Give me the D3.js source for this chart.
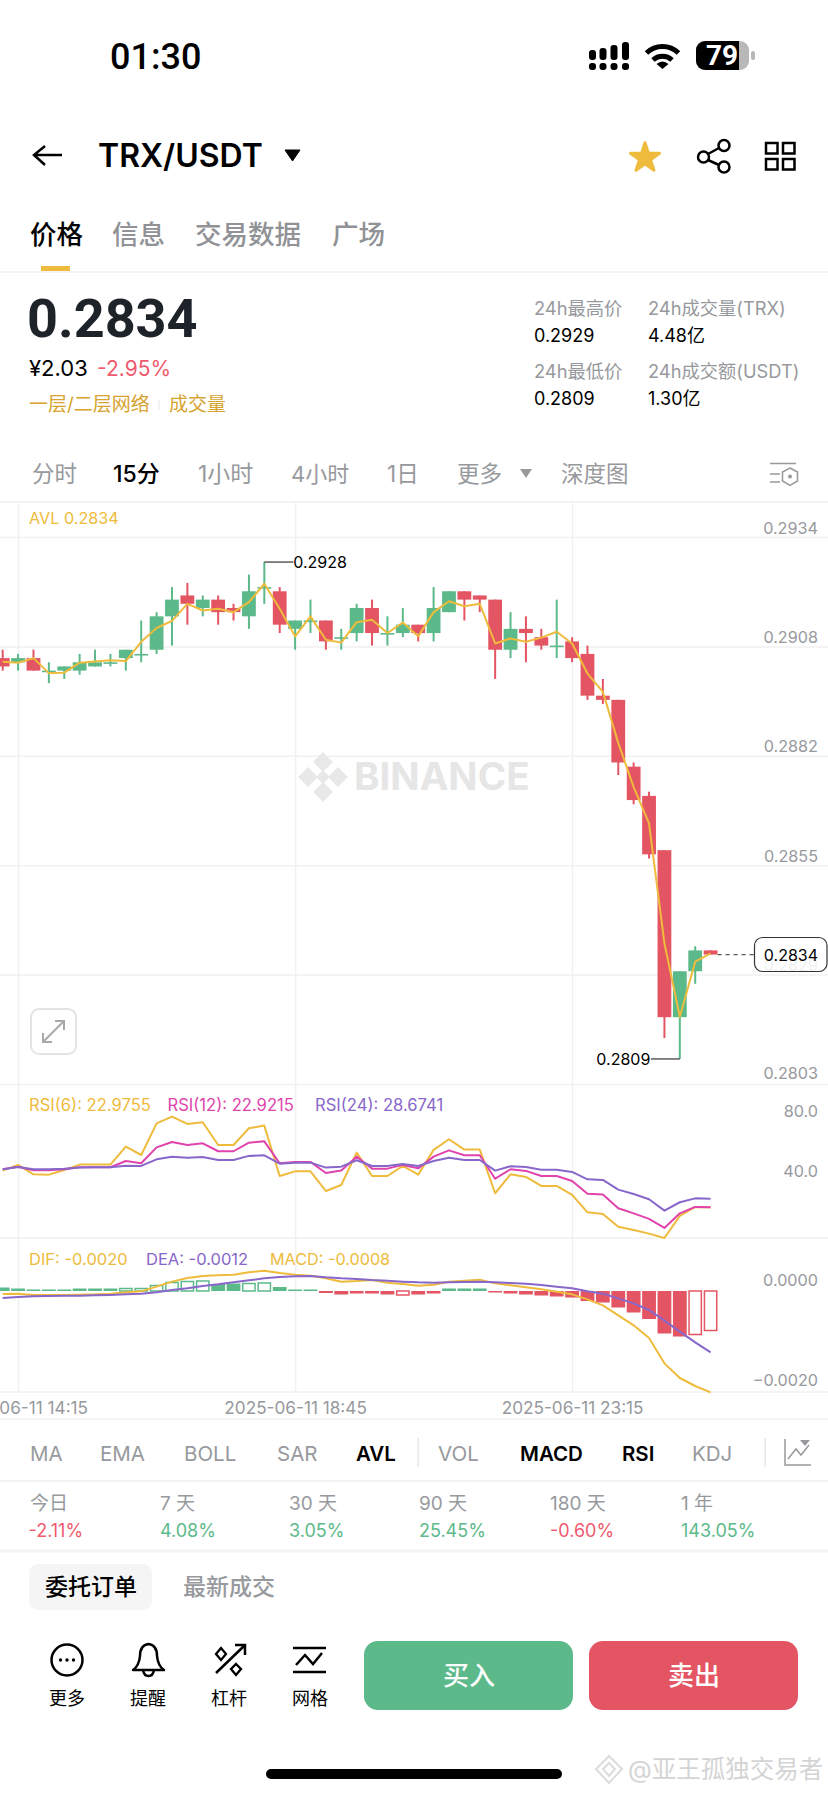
<!DOCTYPE html>
<html>
<head>
<meta charset="utf-8">
<script src="https://cdn.jsdelivr.net/npm/d3@7"></script>
<style>
html, body { margin: 0; padding: 0; background: #fff; }
svg { display: block; }
text { font-family: Inter, "Noto Sans CJK SC", sans-serif; }
.domain { display: none; }
</style>
</head>
<body>
<div id="chart"></div>
<script>
// candles, oldest first (15 min each)
var opens = [0.2905,0.2904,0.2905,0.2902,0.2902,0.2902,0.2903,0.2904,0.2905,0.2906,0.2907,0.2915,0.2920,0.2917,0.2919,0.2917,0.2915,0.2922,0.2921,0.2912,0.2914,0.2914,0.2910,0.2911,0.2917,0.2911,0.2911,0.2913,0.2911,0.2916,0.2921,0.2920,0.2919,0.2907,0.2912,0.2910,0.2908,0.2909,0.2906,0.2896,0.2895,0.2879,0.2872,0.2859,0.2819,0.2830,0.2835];
var highs = [0.2907,0.2906,0.2907,0.2904,0.2903,0.2906,0.2907,0.2906,0.2907,0.2914,0.2916,0.2922,0.2923,0.2920,0.2920,0.2918,0.2925,0.2928,0.2922,0.2914,0.2919,0.2914,0.2912,0.2918,0.2919,0.2915,0.2917,0.2913,0.2922,0.2921,0.2921,0.2920,0.2919,0.2916,0.2915,0.2912,0.2919,0.2910,0.2908,0.2900,0.2895,0.2880,0.2873,0.2859,0.2830,0.2836,0.2835];
var lows = [0.2902,0.2902,0.2902,0.2899,0.2900,0.2901,0.2903,0.2903,0.2902,0.2904,0.2906,0.2908,0.2913,0.2915,0.2913,0.2914,0.2912,0.2918,0.2911,0.2907,0.2911,0.2907,0.2907,0.2909,0.2908,0.2908,0.2910,0.2909,0.2909,0.2916,0.2914,0.2916,0.2900,0.2905,0.2904,0.2907,0.2905,0.2904,0.2895,0.2894,0.2877,0.2870,0.2857,0.2814,0.2809,0.2827,0.2834];
var closes = [0.2903,0.2905,0.2902,0.2902,0.2903,0.2904,0.2904,0.2904,0.2907,0.2906,0.2915,0.2919,0.2918,0.2919,0.2916,0.2916,0.2921,0.2922,0.2913,0.2914,0.2914,0.2909,0.2910,0.2917,0.2911,0.2911,0.2913,0.2911,0.2917,0.2921,0.2919,0.2919,0.2907,0.2912,0.2911,0.2908,0.2908,0.2905,0.2896,0.2895,0.2880,0.2871,0.2858,0.2819,0.2830,0.2835,0.2834];
var avl = [0.29041,0.29039,0.29050,0.29014,0.29015,0.29039,0.29042,0.29045,0.29043,0.29089,0.29122,0.29139,0.29180,0.29164,0.29168,0.29160,0.29184,0.29228,0.29168,0.29102,0.29150,0.29094,0.29087,0.29136,0.29142,0.29110,0.29135,0.29102,0.29160,0.29186,0.29174,0.29180,0.29085,0.29097,0.29089,0.29099,0.29113,0.29085,0.29013,0.28969,0.28847,0.28741,0.28654,0.28367,0.28191,0.28323,0.28343];

var rsi6 = [47.4,51.2,44.9,44.7,47.8,51.4,51.4,51.4,63.4,57.8,78.9,83.4,78.5,79.6,64.5,64.5,75.6,77.4,43.8,46.9,46.9,33.8,37.8,59.4,43.8,43.8,50.5,44.7,61.2,68.3,61.4,61.4,32.3,44.9,43.2,37.2,37.2,31.2,19.6,18.5,10.0,7.8,5.4,2.5,17.2,23.2,22.98];
var rsi12 = [48.3,50.0,47.6,47.6,48.3,49.6,49.6,49.6,53.8,52.3,62.9,66.5,64.5,65.6,60.3,60.3,66.0,66.9,52.3,53.2,53.2,45.8,47.4,56.7,48.7,48.7,51.2,48.9,56.7,60.9,57.6,57.6,42.0,48.3,47.2,43.8,43.8,40.5,32.0,31.4,22.3,18.9,15.2,9.2,18.9,23.2,22.92];
var rsi24 = [48.3,49.8,48.3,48.3,48.7,49.4,49.6,49.6,50.7,50.5,54.9,56.7,56.0,56.5,54.5,54.5,57.2,57.6,52.0,52.7,52.7,49.4,50.0,54.3,50.5,50.5,51.8,50.5,53.8,56.0,54.5,54.5,47.4,50.3,49.8,48.0,48.0,46.5,41.6,41.2,34.7,31.8,28.3,20.7,26.3,28.9,28.67];

var dif = [-0.00006,-0.000053,-0.00008,-0.00008,-0.00008,-0.000073,-0.000067,-0.000053,-0.000027,-0.000007,0.000087,0.000187,0.00026,0.0003,0.000313,0.000327,0.000373,0.000407,0.00036,0.000327,0.000307,0.000253,0.000187,0.0002,0.00022,0.000167,0.00014,0.000107,0.000127,0.000187,0.000207,0.000227,0.000153,0.000113,0.000073,0.000033,-0.000013,-0.000067,-0.000167,-0.000287,-0.000487,-0.000687,-0.00094,-0.001447,-0.00174,-0.0019,-0.002027];
var dea = [-0.00014,-0.00012,-0.000107,-0.0001,-0.000093,-0.000093,-0.000087,-0.00008,-0.000067,-0.000053,-0.000027,0.00002,0.000053,0.0001,0.000133,0.000173,0.000213,0.000253,0.00028,0.000293,0.0003,0.000273,0.000253,0.00024,0.00022,0.000207,0.000187,0.000173,0.000167,0.000173,0.00018,0.000187,0.000173,0.00016,0.000147,0.00012,0.000087,0.000053,-0.000007,-0.000053,-0.000147,-0.000247,-0.00038,-0.000593,-0.000813,-0.001027,-0.001227];
var hist = [0.00007,0.00005,0.00003,0.00003,0.00003,0.00005,0.00005,0.00005,0.00005,0.00005,0.00011,0.00017,0.00019,0.0002,0.00014,0.00015,0.00015,0.00016,0.00008,0.00003,0.00003,-0.00004,-0.00007,-0.00005,-0.00005,-0.00007,-0.00008,-0.00007,-0.00005,0.00005,0.00005,0.00005,-0.00003,-0.00005,-0.00007,-0.00009,-0.00011,-0.00013,-0.0002,-0.00023,-0.00033,-0.00043,-0.00056,-0.00085,-0.00091,-0.00087,-0.00079];
var histHollow = [8,9,10,11,12,13,16,17,26,45,46];

var priceTicks = [0.2934,0.29078,0.28816,0.28554,0.28292,0.2803];
var rsiTicks = [80,40];
var macdTicks = [0,-0.002];
var timeTickIdx = [1,19,37];
var timeLabels = ["2025-06-11 14:15","2025-06-11 18:45","2025-06-11 23:15"];

var periodNames = ["今日","7 天","30 天","90 天","180 天","1 年"];
var periodValues = ["-2.11%","4.08%","3.05%","25.45%","-0.60%","143.05%"];

var GREEN = "#5cb98a", RED = "#e45563", YELLOW = "#eebb3c", PINK = "#e044ac", PURPLE = "#8867cb";
var GRID = "#f1f1f1", GREY = "#97999d";

var svg = d3.select("#chart").append("svg").attr("width", 828).attr("height", 1795);

// small helper for all the plain text on the page
function txt(x, y, s, size, color, weight, anchor) {
	return svg.append("text")
		.attr("x", x).attr("y", y)
		.attr("font-size", size)
		.attr("fill", color || "#000")
		.attr("font-weight", weight || 400)
		.attr("text-anchor", anchor || "start")
		.text(s);
}
function rule(x1, x2, y, color, w) {
	svg.append("line").attr("x1", x1).attr("x2", x2).attr("y1", y).attr("y2", y)
		.attr("stroke", color || GRID).attr("stroke-width", w || 1.5);
}

// scales
var x = d3.scaleLinear().domain([0, 46]).range([2.7, 710.6]);
var yPrice = d3.scaleLinear().domain([0.2934, 0.2803]).range([537, 1084]);
var yRsi = d3.scaleLinear().domain([80, 40]).range([1121.7, 1181.7]);
var yMacd = d3.scaleLinear().domain([0, -0.002]).range([1291, 1391]);

// status bar
txt(110, 69, "01:30", 36, "#000", 500).style("font-family", "Roboto");
var sigTop = [50, 48, 45, 42], sigX = [589, 599.5, 610.5, 622];
sigX.forEach(function (sx, i) {
	svg.append("rect").attr("x", sx).attr("y", sigTop[i]).attr("width", 7).attr("height", 60 - sigTop[i]).attr("rx", 3).attr("fill", "#000");
	svg.append("rect").attr("x", sx).attr("y", 63).attr("width", 7).attr("height", 7).attr("rx", 3).attr("fill", "#000");
});
svg.append("path").attr("d", "M646.5 53 A23 23 0 0 1 678.5 53").attr("fill", "none").attr("stroke", "#000").attr("stroke-width", 5);
svg.append("path").attr("d", "M653 60 A14 14 0 0 1 672 60").attr("fill", "none").attr("stroke", "#000").attr("stroke-width", 5);
svg.append("path").attr("d", "M656.5 64 Q662.5 59 668.5 64 L662.5 69 Z").attr("fill", "#000");
svg.append("rect").attr("x", 696).attr("y", 41).attr("width", 53).attr("height", 29).attr("rx", 9).attr("fill", "#b8b8b8");
svg.append("path").attr("d", "M705 41 H739 V70 H705 A9 9 0 0 1 696 61 V50 A9 9 0 0 1 705 41 Z").attr("fill", "#000");
svg.append("rect").attr("x", 751).attr("y", 51).attr("width", 4).attr("height", 9).attr("rx", 2).attr("fill", "#b8b8b8");
txt(722, 65, "79", 28, "#fff", 700, "middle").style("font-family", "Roboto");

// title row
svg.append("path").attr("d", "M62 155 H35 M45 146 L34 155 L45 165").attr("fill", "none").attr("stroke", "#000").attr("stroke-width", 2.5);
txt(98, 167, "TRX/USDT", 32, "#000", 600);
svg.append("path").attr("d", "M285 150 H300 L292.5 161 Z").attr("fill", "#000").attr("stroke", "#000").attr("stroke-linejoin", "round");
svg.append("path").attr("transform", "translate(645,158)")
	.attr("d", d3.symbol().type(d3.symbolStar).size(260)())
	.attr("fill", YELLOW).attr("stroke", YELLOW).attr("stroke-width", 3).attr("stroke-linejoin", "round");
svg.append("path").attr("d", "M708 154 L719 148 M708 160 L719 165").attr("stroke", "#000").attr("stroke-width", 2.5);
[[724, 145.5], [703.5, 157], [724, 167]].forEach(function (c) {
	svg.append("circle").attr("cx", c[0]).attr("cy", c[1]).attr("r", 5.5).attr("fill", "none").attr("stroke", "#000").attr("stroke-width", 2.5);
});
[[766, 143], [783, 143], [766, 159], [783, 159]].forEach(function (c) {
	svg.append("rect").attr("x", c[0]).attr("y", c[1]).attr("width", 11.5).attr("height", 10.5).attr("fill", "none").attr("stroke", "#000").attr("stroke-width", 2.5);
});

// tabs
txt(30, 244, "价格", 26.5, "#000", 500);
txt(112, 244, "信息", 26.5, "#909296", 500);
txt(195, 244, "交易数据", 26.5, "#909296", 500);
txt(332, 244, "广场", 26.5, "#909296", 500);
svg.append("rect").attr("x", 41).attr("y", 266).attr("width", 29).attr("height", 5).attr("fill", YELLOW);
rule(0, 828, 272);

// price header
txt(27, 337, "0.2834", 54, "#1e2329", 700).style("font-family", "Roboto");
txt(29, 376, "¥2.03", 22, "#000");
txt(97, 376, "-2.95%", 21, "#ef5a6f");
txt(29, 411, "一层/二层网络", 19, "#d6a32e");
svg.append("rect").attr("x", 158.5).attr("y", 400).attr("width", 1).attr("height", 10).attr("fill", "#e6e6e6");
txt(169, 411, "成交量", 19, "#d6a32e");
txt(534, 315, "24h最高价", 18.3, GREY);
txt(534, 342, "0.2929", 18, "#000");
txt(648, 315, "24h成交量(TRX)", 18.3, GREY);
txt(648, 342, "4.48亿", 18, "#000");
txt(534, 378, "24h最低价", 18.3, GREY);
txt(534, 405, "0.2809", 18, "#000");
txt(648, 378, "24h成交额(USDT)", 18.3, GREY);
txt(648, 405, "1.30亿", 18, "#000");

// interval row
txt(32, 482, "分时", 22.5, GREY);
txt(113, 482, "15分", 23, "#000", 500);
txt(198, 482, "1小时", 23, GREY);
txt(291, 482, "4小时", 22, GREY);
txt(387, 482, "1日", 22.5, GREY);
txt(457, 482, "更多", 22.5, GREY);
svg.append("path").attr("d", "M520 469 H532 L526 478 Z").attr("fill", GREY);
txt(561, 482, "深度图", 22.5, GREY);
svg.append("path").attr("d", "M770 463.5 H796 M770 474 H780 M770 482 H780").attr("fill", "none").attr("stroke", GREY).attr("stroke-width", 1.5);
svg.append("path").attr("d", "M790 468 L797.5 472 V481 L790 485.5 L782.5 481 V472 Z").attr("fill", "none").attr("stroke", GREY).attr("stroke-width", 1.5);
svg.append("circle").attr("cx", 790).attr("cy", 476.5).attr("r", 2).attr("fill", GREY);

// chart frame
rule(0, 828, 502);
rule(0, 828, 1238);
rule(0, 828, 1392);
rule(0, 828, 1419);

var xAxis = d3.axisBottom(x).tickValues(timeTickIdx)
	.tickFormat(function (d, i) { return timeLabels[i]; })
	.tickSize(-890).tickPadding(0);
var gx = svg.append("g").attr("transform", "translate(0,1392)").call(xAxis);
gx.selectAll("line").attr("stroke", GRID).attr("stroke-width", 1.5);
gx.selectAll("text").attr("y", 22).attr("dy", 0).attr("font-size", 17.2).attr("fill", GREY);

var priceAxis = d3.axisLeft(yPrice).tickValues(priceTicks).tickFormat(d3.format(".4f")).tickSize(828);
var gp = svg.append("g").attr("transform", "translate(828,0)").call(priceAxis);
gp.selectAll("line").attr("stroke", GRID).attr("stroke-width", 1.5);
gp.selectAll("text").attr("x", -10).attr("dy", function (d, i) { return i == 5 ? -6 : -4; }).attr("font-size", 16.2).attr("fill", GREY);

// watermark
svg.append("g").selectAll("path")
	.data([[323, 762], [308, 777], [338, 777], [323, 792]])
	.enter().append("path")
	.attr("transform", function (d) { return "translate(" + d[0] + "," + d[1] + ") rotate(45)"; })
	.attr("d", "M-7 -7 H7 V7 H-7 Z")
	.attr("fill", "#e8e8e8");
svg.append("path").attr("transform", "translate(323,777) rotate(45)").attr("d", "M-5 -5 H5 V5 H-5 Z").attr("fill", "#e8e8e8");
txt(354, 790, "BINANCE", 38.5, "#e6e6e6", 700);

txt(29, 524, "AVL 0.2834", 16.2, YELLOW);

// candles
var candleIdx = d3.range(opens.length);
function candleColor(i) { return closes[i] >= opens[i] ? GREEN : RED; }
svg.append("g").selectAll("line").data(candleIdx).enter().append("line")
	.attr("x1", function (i) { return x(i); })
	.attr("x2", function (i) { return x(i); })
	.attr("y1", function (i) { return yPrice(highs[i]); })
	.attr("y2", function (i) { return yPrice(lows[i]); })
	.attr("stroke", candleColor).attr("stroke-width", 2);
svg.append("g").selectAll("rect").data(candleIdx).enter().append("rect")
	.attr("x", function (i) { return x(i) - 6.9; })
	.attr("width", 13.8)
	.attr("y", function (i) { return yPrice(Math.max(opens[i], closes[i])); })
	.attr("height", function (i) { return Math.max(1.6, Math.abs(yPrice(opens[i]) - yPrice(closes[i]))); })
	.attr("fill", candleColor);

function drawLine(values, yScale, color) {
	var line = d3.line().x(function (d, i) { return x(i); }).y(function (d) { return yScale(d); });
	svg.append("path").datum(values).attr("d", line)
		.attr("fill", "none").attr("stroke", color).attr("stroke-width", 2).attr("stroke-linejoin", "round");
}
drawLine(avl, yPrice, YELLOW);

// high / low markers
var iHigh = highs.indexOf(d3.max(highs)), iLow = lows.indexOf(d3.min(lows));
svg.append("path").attr("d", "M" + x(iHigh) + " " + yPrice(highs[iHigh]) + " H" + (x(iHigh) + 29)).attr("stroke", "#333").attr("stroke-width", 1.2);
txt(x(iHigh) + 29, yPrice(highs[iHigh]) + 6, d3.format(".4f")(highs[iHigh]), 16, "#000");
svg.append("path").attr("d", "M" + x(iLow) + " " + yPrice(lows[iLow]) + " H" + (x(iLow) - 29)).attr("stroke", "#333").attr("stroke-width", 1.2);
txt(x(iLow) - 29.5, yPrice(lows[iLow]) + 6, d3.format(".4f")(lows[iLow]), 16, "#000", 400, "end");

// last price tag
var last = closes[closes.length - 1];
svg.append("line").attr("x1", x(46) + 7).attr("x2", 754).attr("y1", yPrice(last)).attr("y2", yPrice(last))
	.attr("stroke", "#555").attr("stroke-width", 1.2).attr("stroke-dasharray", "4 4");
svg.append("rect").attr("x", 754.5).attr("y", 937.5).attr("width", 72.5).attr("height", 34).attr("rx", 8)
	.attr("fill", "#fff").attr("fill-opacity", 0.85).attr("stroke", "#333").attr("stroke-width", 1.2);
txt(818, yPrice(last) + 6, d3.format(".4f")(last), 16, "#000", 400, "end");

// expand button
svg.append("rect").attr("x", 31).attr("y", 1009).attr("width", 45).attr("height", 45).attr("rx", 8)
	.attr("fill", "#fff").attr("stroke", "#e4e4e4").attr("stroke-width", 2);
svg.append("path").attr("d", "M43 1042 L64 1021 M55 1021 H64 V1030 M43 1033 V1042 H52")
	.attr("fill", "none").attr("stroke", "#a9a9a9").attr("stroke-width", 2);

// RSI panel
var rsiAxis = d3.axisLeft(yRsi).tickValues(rsiTicks).tickFormat(d3.format(".1f")).tickSize(0);
var gr = svg.append("g").attr("transform", "translate(828,0)").call(rsiAxis);
gr.selectAll("text").attr("x", -10).attr("dy", -5).attr("font-size", 16.2).attr("fill", GREY);
txt(29, 1111, "RSI(6): 22.9755", 16.6, YELLOW);
txt(167.5, 1111, "RSI(12): 22.9215", 16.6, PINK);
txt(315, 1111, "RSI(24): 28.6741", 16.6, PURPLE);
drawLine(rsi6, yRsi, YELLOW);
drawLine(rsi12, yRsi, PINK);
drawLine(rsi24, yRsi, PURPLE);

// MACD panel
var macdAxis = d3.axisLeft(yMacd).tickValues(macdTicks).tickFormat(d3.format(".4f")).tickSize(0);
var gm = svg.append("g").attr("transform", "translate(828,0)").call(macdAxis);
gm.selectAll("text").attr("x", -10).attr("dy", -6).attr("font-size", 16.2).attr("fill", GREY);
txt(29, 1265, "DIF: -0.0020", 16.5, YELLOW);
txt(146, 1265, "DEA: -0.0012", 16.5, PURPLE);
txt(270, 1265, "MACD: -0.0008", 16.2, YELLOW);

svg.append("g").selectAll("rect").data(candleIdx).enter().append("rect")
	.each(function (i) {
		var top = Math.min(yMacd(hist[i]), yMacd(0));
		var h = Math.abs(yMacd(hist[i]) - yMacd(0));
		var c = hist[i] >= 0 ? GREEN : RED;
		var hollow = histHollow.indexOf(i) >= 0;
		d3.select(this)
			.attr("x", x(i) - 6.9 + (hollow ? 0.75 : 0))
			.attr("width", 13.8 - (hollow ? 1.5 : 0))
			.attr("y", top)
			.attr("height", Math.max(1.5, h))
			.attr("fill", hollow ? "#fff" : c)
			.attr("stroke", hollow ? c : "none")
			.attr("stroke-width", 1.5);
	});
drawLine(dif, yMacd, YELLOW);
drawLine(dea, yMacd, PURPLE);

// indicator switches
var indNames = ["MA","EMA","BOLL","SAR","AVL","VOL","MACD","RSI","KDJ"];
var indX = [30,100,184,277,356,438,520,622,692];
var indOn = ["AVL","MACD","RSI"];
indNames.forEach(function (n, i) {
	var on = indOn.indexOf(n) >= 0;
	txt(indX[i], 1461, n, 20.5, on ? "#000" : GREY, on ? 600 : 400);
});
svg.append("rect").attr("x", 417.5).attr("y", 1438).attr("width", 1.5).attr("height", 29).attr("fill", "#e8e8e8");
svg.append("rect").attr("x", 764.5).attr("y", 1438).attr("width", 1.5).attr("height", 29).attr("fill", "#e8e8e8");
svg.append("path").attr("d", "M785 1439 V1465 H811 M788 1459 L796 1449 L801 1455 L809 1445")
	.attr("fill", "none").attr("stroke", GREY).attr("stroke-width", 1.5);
svg.append("path").attr("d", "M800 1440 H810 L805 1446 Z").attr("fill", GREY);
rule(0, 828, 1481);

// period returns
var periodX = [30,160,289,419,550,681];
periodNames.forEach(function (n, i) {
	txt(periodX[i], 1510, n, 19, GREY);
	txt(periodX[i] - (periodValues[i] == "-2.11%" ? 1.5 : 0), 1537, periodValues[i], 18, periodValues[i].charAt(0) == "-" ? "#ef5a6f" : GREEN);
});
rule(0, 828, 1551, "#f3f3f3", 3);

// order tabs
svg.append("rect").attr("x", 29).attr("y", 1564).attr("width", 123).attr("height", 46).attr("rx", 9).attr("fill", "#f5f5f5");
txt(45, 1595, "委托订单", 23, "#000", 500);
txt(183, 1595, "最新成交", 23, GREY, 500);

// bottom actions
svg.append("circle").attr("cx", 67).attr("cy", 1660).attr("r", 15.5).attr("fill", "none").attr("stroke", "#000").attr("stroke-width", 2.5);
[60.5, 67, 73.5].forEach(function (cx) {
	svg.append("circle").attr("cx", cx).attr("cy", 1660).attr("r", 1.7).attr("fill", "#000");
});
svg.append("path").attr("d", "M133 1670 Q139 1666 140 1656 Q140 1645 148.5 1644 Q157 1645 157 1656 Q158 1666 164 1670 Z M143 1670 Q144 1676 148.5 1676 Q153 1676 154 1670")
	.attr("fill", "none").attr("stroke", "#000").attr("stroke-width", 2.5).attr("stroke-linejoin", "round");
svg.append("path").attr("d", "M216 1673 L244 1646 M235 1645 H245 V1655").attr("fill", "none").attr("stroke", "#000").attr("stroke-width", 2.5);
svg.append("path").attr("d", "M221 1648 L226 1654 L221 1660 L216 1654 Z M236 1664 L241 1669 L236 1675 L231 1669 Z").attr("fill", "none").attr("stroke", "#000").attr("stroke-width", 2.3);
svg.append("path").attr("d", "M293 1648 H326 M293 1672 H326 M296 1665 L305 1655 L313 1664 L322 1653").attr("fill", "none").attr("stroke", "#000").attr("stroke-width", 2.5);
var toolNames = ["更多","提醒","杠杆","网格"];
var toolX = [67,148,229,310];
toolNames.forEach(function (n, i) { txt(toolX[i], 1705, n, 18, "#000", 400, "middle"); });

svg.append("rect").attr("x", 364).attr("y", 1641).attr("width", 209).attr("height", 69).attr("rx", 14).attr("fill", GREEN);
svg.append("rect").attr("x", 589).attr("y", 1641).attr("width", 209).attr("height", 69).attr("rx", 14).attr("fill", RED);
txt(469, 1685, "买入", 26, "#fff", 500, "middle");
txt(694, 1685, "卖出", 26, "#fff", 500, "middle");

// home bar and corner watermark
svg.append("rect").attr("x", 266).attr("y", 1769).attr("width", 296).attr("height", 10).attr("rx", 5).attr("fill", "#000");
svg.append("path").attr("d", "M609 1756 L622 1769 L609 1783 L596 1769 Z M609 1763 L615 1769 L609 1776 L603 1769 Z").attr("fill", "none").attr("stroke", "#dcdcdc").attr("stroke-width", 2);
txt(628, 1778, "@亚王孤独交易者", 24.5, "#d4d4d4");
</script>
</body>
</html>
